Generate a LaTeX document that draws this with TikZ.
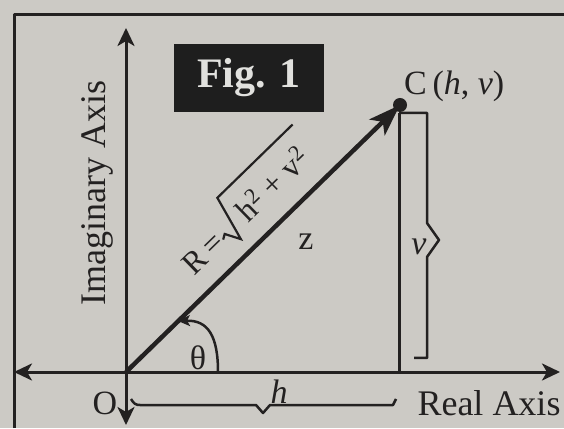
\documentclass[tikz,border=0pt]{standalone}
\usepackage{fontspec}
\setmainfont{Liberation Serif}
\usetikzlibrary{arrows.meta}
\definecolor{bg}{RGB}{204,202,197}
\definecolor{ink}{RGB}{35,33,33}
\definecolor{boxfill}{RGB}{30,30,30}
\definecolor{boxtext}{RGB}{225,225,222}
\begin{document}
\begin{tikzpicture}[x=1pt,y=1pt,line join=round,
  axisline/.style={draw=ink,line width=3pt,
    {Stealth[length=18pt,width=17pt,inset=5pt]}-{Stealth[length=18pt,width=17pt,inset=5pt]}},
  vecline/.style={draw=ink,line width=4.5pt,-{Stealth[length=32pt,width=22pt,inset=8pt]}},
  thinline/.style={draw=ink,line width=2.5pt},
  lab/.style={text=ink,inner sep=0pt,font=\fontsize{34}{40}\selectfont}]
\fill[bg] (0,0) rectangle (564,428);
\useasboundingbox (0,0) rectangle (564,428);
% frame
\coordinate (FTL) at (14,413);
\coordinate (FTR) at (564,413);
\coordinate (FBL) at (14,0);
\draw[ink,line width=3pt] (FBL) -- (FTL) -- (FTR);
% points
\coordinate (O) at (126,56);
\coordinate (C) at (400,323);
\coordinate (Ytop) at (126,400);
\coordinate (Ybot) at (126,3);
\coordinate (Xl) at (14,56);
\coordinate (Xr) at (560,56);
\coordinate (Ft) at (399,315);
\coordinate (Fb) at (399,56);
% Fig box
\node[fill=boxfill,minimum width=150pt,minimum height=68pt,inner sep=0pt,
  text=boxtext,font=\fontsize{42}{48}\selectfont\bfseries] (fig) at (249,350) {Fig. 1};
% axes
\draw[axisline] (Ybot) -- (Ytop);
\draw[axisline] (Xl) -- (Xr);
% vertical from C
\draw[thinline,line width=3pt] (Ft) -- (Fb);
% vector
\draw[vecline] (O) -- (C);
\fill[ink] (C) circle (7pt);
% v bracket
\draw[thinline] (Ft) -- (427,315) -- (427,205) -- (439,188) -- (427,171) -- (427,70) -- (414,70);
% h brace
\draw[thinline] (131,29) .. controls (134,24) and (136,23) .. (140,23) -- (256,23) -- (263,15) -- (270,23) -- (393,23) -- (396,29);
% theta arc
\draw[thinline,-{Stealth[length=12pt,width=11pt,inset=3pt]}] (218,56) .. controls (218,92) and (208,108) .. (178,107);
% labels
\node[lab] (theta) at (198,70) {θ};
\node[lab] (zl) at (306,186) {z};
\node[lab] (vl) at (419,181) {\itshape v};
\node[lab] (hl) at (279,36) {\itshape h};
\node[lab] (Ol) at (105,25) {O};
\node[lab,font=\fontsize{36}{40}\selectfont] (real) at (489,25) {Real Axis};
\node[lab,rotate=90,font=\fontsize{36}{40}\selectfont] (imag) at (97,235) {Imaginary Axis};
\node[lab,anchor=west] (Cl) at (404,342) {C\,(\itshape h\upshape, \itshape v\upshape)};
% R = sqrt(h^2 + v^2) along the vector
\begin{scope}[shift={(O)},rotate=44.26]
  \node[lab,transform shape,font=\fontsize{32}{38}\selectfont] (Rl) at (138,31) {R\,=};
  \draw[ink,line width=2.2pt,line join=miter] (162,27) -- (167,30) -- (175,15) -- (187,61) -- (292,61);
  \node[lab,transform shape,font=\fontsize{32}{38}\selectfont] (Rad) at (236,33)
    {h\textsuperscript{2} + v\textsuperscript{2}};
\end{scope}
\end{tikzpicture}
\end{document}
